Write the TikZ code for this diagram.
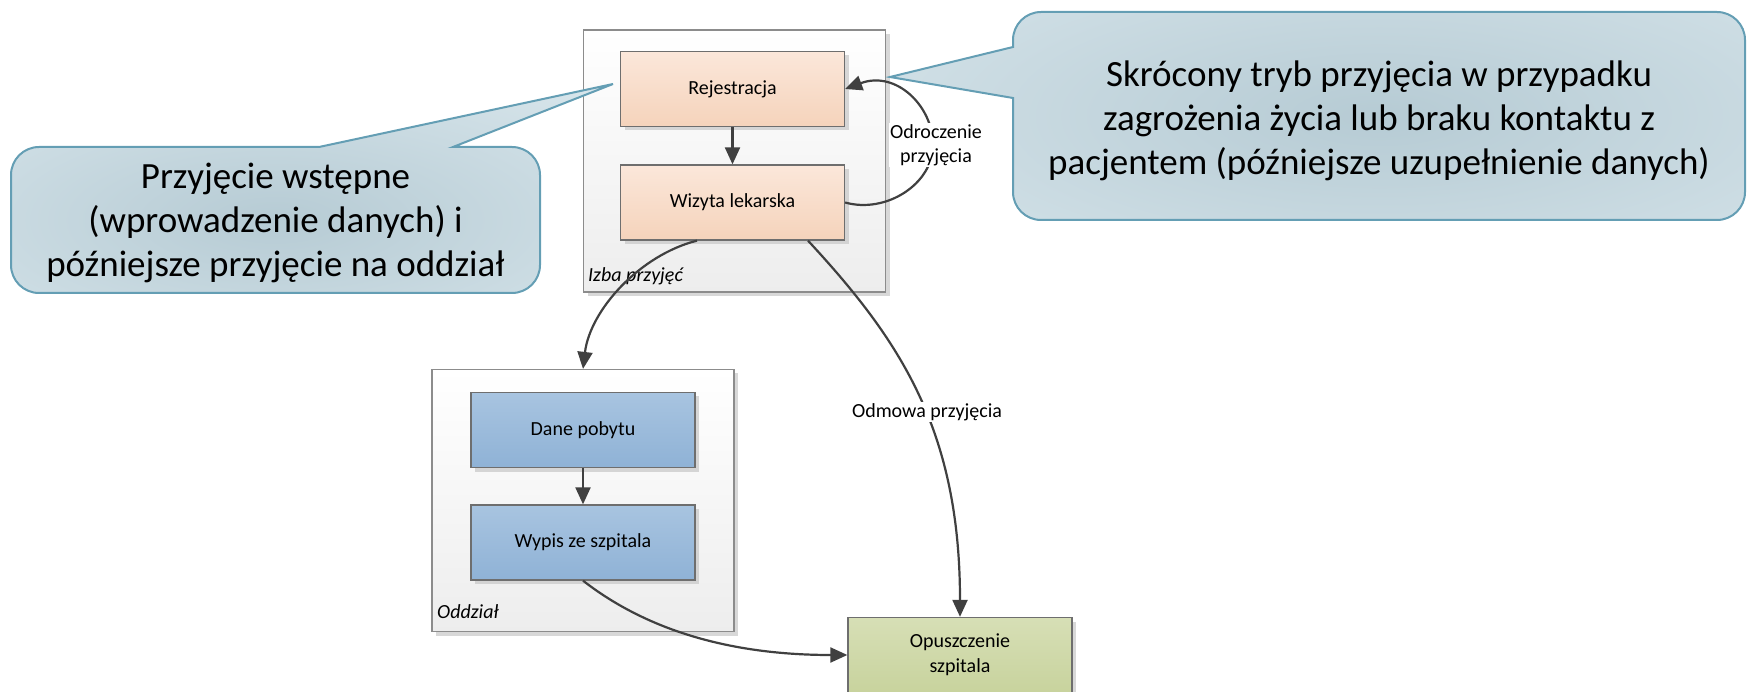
\documentclass[tikz,border=0pt]{standalone}
\usepackage{fontspec}
\setmainfont{Carlito}
\usetikzlibrary{arrows.meta,shadows}

\definecolor{arrgray}{RGB}{64,64,64}
\definecolor{boxline}{RGB}{110,110,110}
\definecolor{contline}{RGB}{140,140,140}
\definecolor{orTop}{RGB}{251,231,218}
\definecolor{orBot}{RGB}{245,211,187}
\definecolor{blTop}{RGB}{168,196,224}
\definecolor{blBot}{RGB}{143,178,214}
\definecolor{grTop}{RGB}{215,223,182}
\definecolor{grBot}{RGB}{200,211,157}
\definecolor{calIn}{RGB}{182,203,212}
\definecolor{calOut}{RGB}{224,236,241}
\definecolor{calLine}{RGB}{100,158,180}

\pgfdeclareradialshading{calloutshade}{\pgfpoint{0bp}{0bp}}{%
  color(0bp)=(calIn); color(30bp)=(calOut); color(50bp)=(calOut)}

% speech bubble outlines (rounded body with a pointed tail)
\newcommand\leftbubble{(11,175) arc[start angle=180,end angle=270,radius=28]
  -- (319,147) -- (613,84) -- (453,147) -- (512,147)
  arc[start angle=270,end angle=360,radius=28] -- (540,265)
  arc[start angle=0,end angle=90,radius=28] -- (39,293)
  arc[start angle=90,end angle=180,radius=28] -- cycle}
\newcommand\rightbubble{(1041,12) -- (1717,12)
  arc[start angle=270,end angle=360,radius=28] -- (1745,192)
  arc[start angle=0,end angle=90,radius=28] -- (1041,220)
  arc[start angle=90,end angle=180,radius=28] -- (1013,98) -- (890,77)
  -- (1013,47) -- (1013,40) arc[start angle=180,end angle=270,radius=28] -- cycle}

\tikzset{
  softshadow/.style={drop shadow={shadow xshift=4pt,shadow yshift=-4pt,fill=black!22,opacity=.7}},
  container/.style={draw=contline,line width=1.2pt,top color=white,bottom color=black!7,
    minimum width=302pt,minimum height=262pt,softshadow},
  procbox/.style={draw=boxline,line width=1.3pt,minimum width=224pt,minimum height=75pt,
    align=center,font=\fontsize{20}{25}\selectfont,softshadow},
  orangebox/.style={procbox,top color=orTop,bottom color=orBot},
  bluebox/.style={procbox,top color=blTop,bottom color=blBot},
  greenbox/.style={procbox,top color=grTop,bottom color=grBot},
  grouplabel/.style={anchor=base west,inner sep=0pt,font=\fontsize{20}{24}\selectfont\itshape},
  flowlabel/.style={fill=white,inner sep=1.5pt,align=center,font=\fontsize{20}{24}\selectfont},
  arr/.style={draw=arrgray,line width=2.2pt,-{Triangle[length=17pt,width=15pt]}},
  bubbleline/.style={draw=calLine,line width=2pt,line join=miter},
  bubbletext/.style={align=center,font=\fontsize{37}{44}\selectfont}
}

\begin{document}
\begin{tikzpicture}[x=1pt,y=-1pt]
\useasboundingbox (0,0) rectangle (1748,692);

% department containers
\node[container] (izba) at (734.5,161) {};
\node[grouplabel] (izbalbl) at (588,282) {Izba przyjęć};
\node[container] (odd) at (583,500.5) {};
\node[grouplabel] (oddlbl) at (437,618) {Oddział};

% process steps
\node[orangebox] (rej) at (732.5,89) {Rejestracja};
\node[orangebox] (wiz) at (732.5,202.5) {Wizyta lekarska};
\node[bluebox] (dane) at (583,430) {Dane pobytu};
\node[bluebox] (wyp) at (583,542.5) {Wypis ze szpitala};
\node[greenbox] (opu) at (960,655) {Opuszczenie\\szpitala};

% flow
\draw[arr] (rej) -- (wiz);
\draw[arr] (dane) -- (wyp);
\draw[arr] (wiz.east) .. controls (886,214) and (933,184) .. (933,145)
  .. controls (933,106) and (896,70) .. (rej.east);
\node[flowlabel] (odr) at (936,145) {Odroczenie\\przyjęcia};
\draw[arr] ([xshift=-35.5pt]wiz.south) .. controls (640,255) and (590,310) .. (odd.north);
\draw[arr] ([xshift=75.5pt]wiz.south) .. controls (900,340) and (960,430) .. (opu.north);
\node[flowlabel] (odm) at (927,412) {Odmowa przyjęcia};
\draw[arr] (wyp.south) .. controls (640,625) and (720,655) .. (opu.west);

% speech bubbles
\begin{scope}
  \clip \leftbubble;
  \shade[shading=calloutshade] (-225,37) rectangle (775,403);
\end{scope}
\draw[bubbleline] \leftbubble;
\node[bubbletext] (bl) at (275.5,223) {Przyjęcie wstępne\\(wprowadzenie danych) i\\późniejsze przyjęcie na oddział};

\begin{scope}
  \clip \rightbubble;
  \shade[shading=calloutshade] (679,-117) rectangle (2079,349);
\end{scope}
\draw[bubbleline] \rightbubble;
\node[bubbletext] (br) at (1379,121) {Skrócony tryb przyjęcia w przypadku\\zagrożenia życia lub braku kontaktu z\\pacjentem (późniejsze uzupełnienie danych)};
\end{tikzpicture}
\end{document}
